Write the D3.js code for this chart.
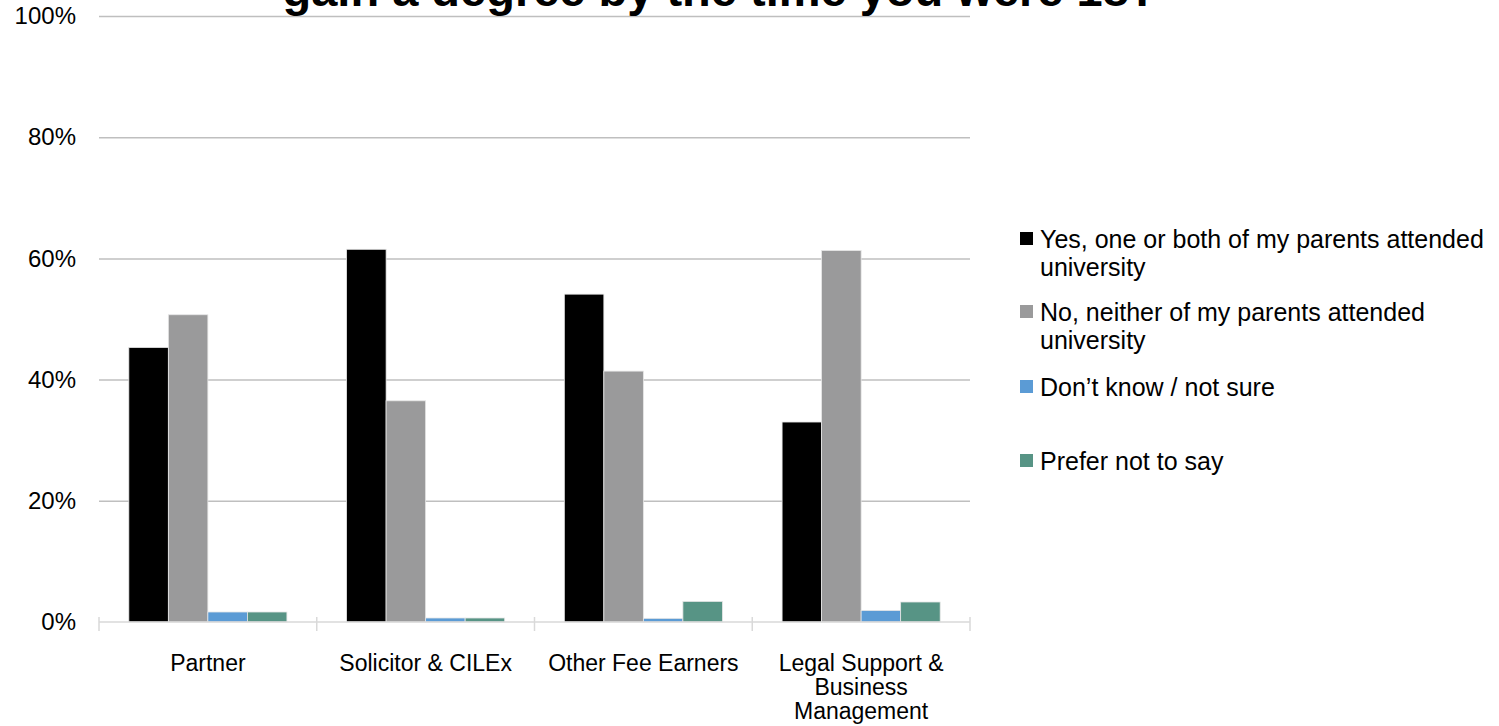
<!DOCTYPE html>
<html><head><meta charset="utf-8">
<script src="https://cdn.jsdelivr.net/npm/d3@7"></script>
<style>
html,body{margin:0;padding:0;background:#fff;}
svg{display:block;font-family:"Liberation Sans",Arial,Helvetica,sans-serif;}
</style></head>
<body>
<svg id="chart" width="1499" height="726"></svg>
<script>
const titleText = "gain a degree by the time you were 18?";
const categories = ["Partner", "Solicitor & CILEx", "Other Fee Earners", "Legal Support & Business Management"];
const categoryLines = [["Partner"], ["Solicitor & CILEx"], ["Other Fee Earners"], ["Legal Support &", "Business", "Management"]];
const seriesNames = ["Yes, one or both of my parents attended university", "No, neither of my parents attended university", "Don\u2019t know / not sure", "Prefer not to say"];
const legendLines = [["Yes, one or both of my parents attended", "university"], ["No, neither of my parents attended", "university"], ["Don\u2019t know / not sure"], ["Prefer not to say"]];
const seriesColors = ["#000000", "#9a9a9b", "#5b9bd5", "#579485"];
const yesValues = [45.3, 61.5, 54.1, 33.0];
const noValues = [50.7, 36.5, 41.4, 61.3];
const dontKnowValues = [1.65, 0.66, 0.6, 1.9];
const preferNotValues = [1.65, 0.66, 3.4, 3.3];
const yTicks = [0, 20, 40, 60, 80, 100];

const seriesValues = [yesValues, noValues, dontKnowValues, preferNotValues];
const svg = d3.select("#chart");
const m = {left: 99, right: 970, top: 16, bottom: 622};

const x0 = d3.scaleBand().domain(categories).range([m.left, m.right]).paddingInner(0).paddingOuter(0);
const x1 = d3.scaleBand().domain(seriesNames).range([0, x0.bandwidth()]).paddingInner(0).paddingOuter(0.755);
const y = d3.scaleLinear().domain([0, 100]).range([m.bottom, m.top]);

// gridlines
const yAxis = d3.axisLeft(y).tickValues(yTicks).tickSize(-(m.right - m.left)).tickPadding(23).tickFormat(d => d + "%");
const gy = svg.append("g").attr("transform", `translate(${m.left},0)`).call(yAxis);
gy.select(".domain").remove();
gy.selectAll(".tick line").attr("stroke", d => d === 0 ? "none" : "#bfbfbf").attr("stroke-width", 1.5);
gy.selectAll(".tick text").attr("font-size", 24).attr("fill", "#000").attr("font-family", "Liberation Sans, Arial, sans-serif");

// bars
const groups = svg.append("g").selectAll("g").data(categories).join("g")
  .attr("transform", d => `translate(${x0(d)},0)`);
groups.selectAll("rect").data((c, i) => seriesNames.map((s, j) => ({s, j, v: seriesValues[j][i]})))
  .join("rect")
  .attr("x", d => x1(d.s))
  .attr("width", x1.bandwidth())
  .attr("y", d => y(d.v))
  .attr("height", d => y(0) - y(d.v))
  .attr("fill", d => seriesColors[d.j])
  .attr("stroke", "#e6e6e6").attr("stroke-width", 0.8);

// x axis
const xAxisG = svg.append("g").attr("transform", `translate(0,${m.bottom})`);
xAxisG.append("line").attr("x1", m.left).attr("x2", m.right).attr("stroke", "#d9d9d9").attr("stroke-width", 1.5);
const bounds = categories.map(c => x0(c)).concat([x0(categories[categories.length-1]) + x0.bandwidth()]);
xAxisG.selectAll("line.tk").data(bounds).join("line").attr("class", "tk")
  .attr("x1", d => d).attr("x2", d => d).attr("y1", -5).attr("y2", 9)
  .attr("stroke", "#d9d9d9").attr("stroke-width", 1.5);
xAxisG.selectAll("text").data(categories).join("text")
  .attr("text-anchor", "middle").attr("font-size", 23).attr("fill", "#000")
  .attr("transform", d => `translate(${x0(d) + x0.bandwidth()/2},0)`)
  .each(function(d, i) {
    d3.select(this).selectAll("tspan").data(categoryLines[i]).join("tspan")
      .attr("x", 0).attr("y", (l, k) => 49 + k * 24).text(l => l);
  });

// title (clipped at top)
const title = svg.append("text").attr("x", 720).attr("y", 6).attr("text-anchor", "middle")
  .attr("font-weight", "bold").attr("font-size", 47).attr("fill", "#000").text(titleText);

// legend
const lg = svg.append("g");
const legendY = [248, 321, 396, 470];
legendLines.forEach((lines, i) => {
  const g = lg.append("g").attr("transform", `translate(1020,${legendY[i]})`);
  g.append("rect").attr("x", 0).attr("y", -16).attr("width", 13).attr("height", 13).attr("fill", seriesColors[i]);
  const t = g.append("text").attr("font-size", 25).attr("fill", "#000");
  t.selectAll("tspan").data(lines).join("tspan").attr("x", 20).attr("y", (l, k) => k * 28).text(l => l);
});
</script>
</body></html>
